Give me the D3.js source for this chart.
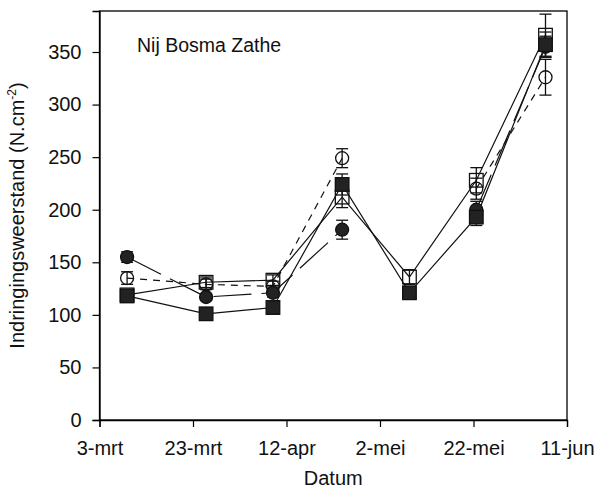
<!DOCTYPE html>
<html><head><meta charset="utf-8">
<script src="https://cdn.jsdelivr.net/npm/d3@7"></script>
<style>body{margin:0;background:#fff}text{font-family:"Liberation Sans",Arial,sans-serif}</style>
</head><body>
<svg id="c" width="614" height="489"></svg>
<script>
// Days after 3-mrt for each measurement
const dayOffsets = [5.9, 22.8, 37.1, 51.9, 66.3, 80.6, 95.4];
const tickDays = [0, 20, 40, 60, 80, 100];
const tickLabels = ["3-mrt", "23-mrt", "12-apr", "2-mei", "22-mei", "11-jun"];
const yTicks = [0, 50, 100, 150, 200, 250, 300, 350];

const openCircle   = [135, 129, 127, 249, null, 220, 326];
const openCircleErr= [6, 5, 5, 9, null, 10, 17];
const filledCircle = [155, 117, 121, 181, null, 200, 355];
const filledCircleErr=[5, 3, 4, 9, null, 8, 10];
const openSquare   = [119, 131, 133, 212, 136, 228, 366];
const openSquareErr= [5, 5, 5, 10, 7, 12, 20];
const filledSquare = [118, 101, 107, 224, 121, 193, 357];
const filledSquareErr=[6, 4, 6, 10, 3, 8, 12];

const series = [
  {name:"openSquare", v:openSquare, e:openSquareErr, marker:"square", fill:"#fff", dash:null},
  {name:"openCircle", v:openCircle, e:openCircleErr, marker:"circle", fill:"#fff", dash:"7,6"},
  {name:"filledCircle", v:filledCircle, e:filledCircleErr, marker:"circle", fill:"#222", dash:"38,10"},
  {name:"filledSquare", v:filledSquare, e:filledSquareErr, marker:"square", fill:"#222", dash:null}
];

const svg = d3.select("#c");
const m = {left:99.5, right:567, top:11, bottom:420};
const x = d3.scaleLinear().domain([0,100]).range([m.left, m.right]);
const y = d3.scaleLinear().domain([0,389]).range([m.bottom, m.top]);

// frame
svg.append("rect").attr("x",m.left).attr("y",m.top).attr("width",m.right-m.left).attr("height",m.bottom-m.top)
  .attr("fill","none").attr("stroke","#000").attr("stroke-width",1.3);

const xa = svg.append("g").attr("transform",`translate(0,${m.bottom})`)
  .call(d3.axisBottom(x).tickValues(tickDays).tickFormat((d,i)=>tickLabels[i]).tickSize(7).tickPadding(14));
const ya = svg.append("g").attr("transform",`translate(${m.left},0)`)
  .call(d3.axisLeft(y).tickValues(yTicks).tickSize(7).tickPadding(11));
[xa,ya].forEach(g=>{
  g.select(".domain").attr("stroke","#000").attr("stroke-width",1.3);
  g.selectAll(".tick line").attr("stroke","#000").attr("stroke-width",1.2);
  g.selectAll("text").attr("font-size",20).attr("fill","#111").style("font-family","'Liberation Sans',Arial,sans-serif");
});

// labels
svg.append("text").attr("x",(m.left+m.right)/2).attr("y",485).attr("text-anchor","middle")
  .attr("font-size",20).attr("fill","#111").text("Datum");
const yt = svg.append("text").attr("transform",`translate(24,${(m.top+m.bottom)/2}) rotate(-90)`)
  .attr("text-anchor","middle").attr("font-size",20).attr("fill","#111");
yt.append("tspan").text("Indringingsweerstand (N.cm");
yt.append("tspan").attr("font-size",12).attr("dy",-8).text("-2");
yt.append("tspan").attr("dy",8).text(")");
svg.append("text").attr("x",137).attr("y",52).attr("font-size",19.5).attr("fill","#111").text("Nij Bosma Zathe");

// lines
const line = d3.line().defined(d=>d.v!=null).x(d=>x(d.d)).y(d=>y(d.v));
series.forEach(s=>{
  const pts = s.v.map((v,i)=>({d:dayOffsets[i], v}));
  svg.append("path").datum(pts).attr("d",line).attr("fill","none").attr("stroke","#111")
    .attr("stroke-width",1.2).attr("stroke-dasharray",s.dash);
});
// error bars
series.forEach(s=>{
  s.v.forEach((v,i)=>{
    if(v==null) return;
    const cx = x(dayOffsets[i]);
    const g = svg.append("g").attr("stroke","#111").attr("stroke-width",1.3);
    g.append("line").attr("x1",cx).attr("x2",cx).attr("y1",y(v-s.e[i])).attr("y2",y(v+s.e[i]));
    [v-s.e[i], v+s.e[i]].forEach(t=>g.append("line").attr("x1",cx-6).attr("x2",cx+6).attr("y1",y(t)).attr("y2",y(t)));
  });
});
// markers
series.forEach(s=>{
  s.v.forEach((v,i)=>{
    if(v==null) return;
    const cx = x(dayOffsets[i]), cy = y(v);
    if(s.marker==="circle"){
      svg.append("circle").attr("cx",cx).attr("cy",cy).attr("r",6.5).attr("fill",s.fill).attr("stroke","#111").attr("stroke-width",1.3)
        .attr("fill-opacity", s.fill==="#fff"?0:1);
    } else {
      svg.append("rect").attr("x",cx-6.8).attr("y",cy-6.8).attr("width",13.6).attr("height",13.6).attr("fill",s.fill).attr("stroke","#111").attr("stroke-width",1.3)
        .attr("fill-opacity", s.fill==="#fff"?0:1);
    }
  });
});
</script>
</body></html>
